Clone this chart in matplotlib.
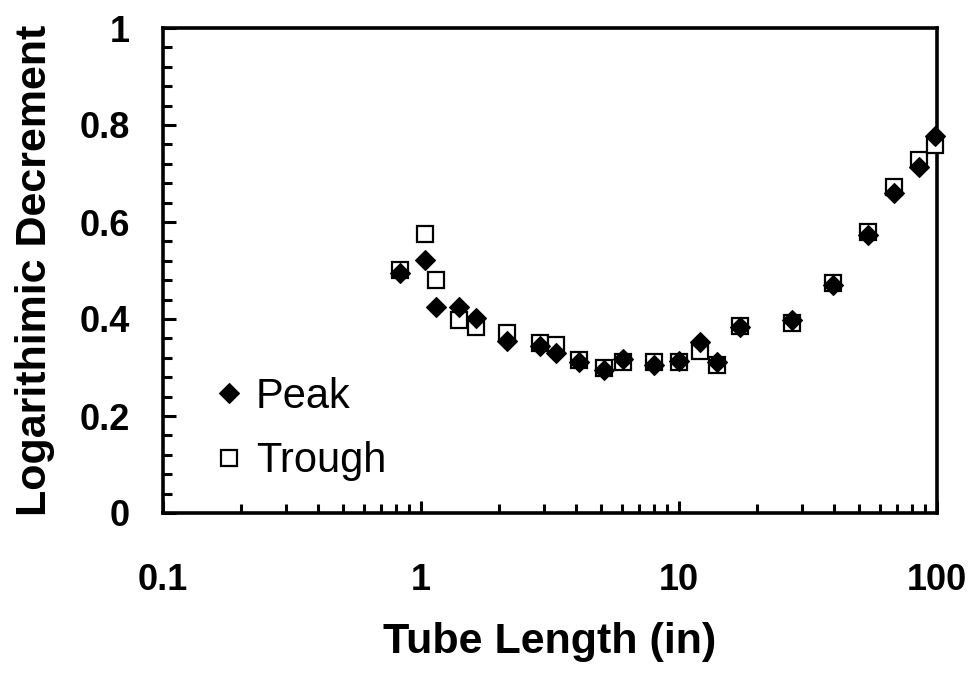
import matplotlib.pyplot as plt
from matplotlib.ticker import LogLocator, MultipleLocator, FixedLocator, FixedFormatter, NullFormatter

plt.rcParams['font.family'] = ['Liberation Sans', 'DejaVu Sans']

# tube length (in), shared by both series
tube_length = [0.83, 1.04, 1.14, 1.40, 1.64, 2.16, 2.89, 3.35, 4.11, 5.14, 6.07, 8.0,
               10.0, 12.05, 14.1, 17.2, 27.4, 39.7, 54.1, 68.4, 85.1, 98.2]
peak = [0.495, 0.522, 0.425, 0.425, 0.402, 0.355, 0.344, 0.330, 0.311, 0.295, 0.318, 0.305,
        0.313, 0.353, 0.311, 0.384, 0.398, 0.470, 0.573, 0.660, 0.713, 0.777]
trough = [0.501, 0.575, 0.480, 0.398, 0.383, 0.371, 0.350, 0.346, 0.315, 0.299, 0.311, 0.311,
          0.311, 0.334, 0.305, 0.386, 0.392, 0.474, 0.579, 0.672, 0.728, 0.759]

x_ticks = [0.1, 1, 10, 100]
x_tick_labels = ['0.1', '1', '10', '100']
y_ticks = [0, 0.2, 0.4, 0.6, 0.8, 1.0]
y_tick_labels = ['0', '0.2', '0.4', '0.6', '0.8', '1']

fig = plt.figure(figsize=(9.72, 6.73), dpi=100)
ax = fig.add_axes([163 / 972, 160 / 673, 774 / 972, 485 / 673])

# troughs first so the diamonds sit on top
tr, = ax.plot(tube_length, trough, linestyle='none', marker='s', markersize=12,
              markerfacecolor='white', markeredgecolor='black', markeredgewidth=1.6,
              label='Trough', clip_on=False, zorder=3)
pk, = ax.plot(tube_length, peak, linestyle='none', marker='D', markersize=10,
              markerfacecolor='black', markeredgecolor='black', markeredgewidth=0.8,
              label='Peak', clip_on=False, zorder=4)

ax.set_xscale('log')
ax.set_xlim(0.1, 100)
ax.set_ylim(0, 1)

ax.xaxis.set_major_locator(FixedLocator(x_ticks))
ax.xaxis.set_major_formatter(FixedFormatter(x_tick_labels))
ax.xaxis.set_minor_locator(LogLocator(base=10, subs=range(2, 10)))
ax.xaxis.set_minor_formatter(NullFormatter())
ax.set_yticks(y_ticks)
ax.set_yticklabels(y_tick_labels)
ax.yaxis.set_minor_locator(MultipleLocator(0.04))

ax.tick_params(which='both', direction='in', width=2.2, color='black')
ax.tick_params(which='major', length=9)
ax.tick_params(which='minor', length=6.5)
ax.tick_params(axis='x', which='both', top=False, pad=36, labelsize=26)
ax.tick_params(axis='y', which='both', right=False, pad=24, labelsize=26)
for lbl in ax.get_xticklabels() + ax.get_yticklabels():
    lbl.set_fontweight('bold')

for side in ax.spines.values():
    side.set_linewidth(2.6)

ax.set_xlabel('Tube Length (in)', fontsize=31, fontweight='bold')
ax.set_ylabel('Logarithimic Decrement', fontsize=31, fontweight='bold')
ax.xaxis.set_label_coords(0.5, -0.225)
ax.yaxis.set_label_coords(-0.14, 0.5)

leg = ax.legend(handles=[pk, tr], loc='center left', bbox_to_anchor=(0.047, 0.173),
                frameon=False, fontsize=30, handlelength=0.6, handletextpad=0.35,
                labelspacing=0.58, borderaxespad=0)

fig.savefig('out.png', dpi=100)
